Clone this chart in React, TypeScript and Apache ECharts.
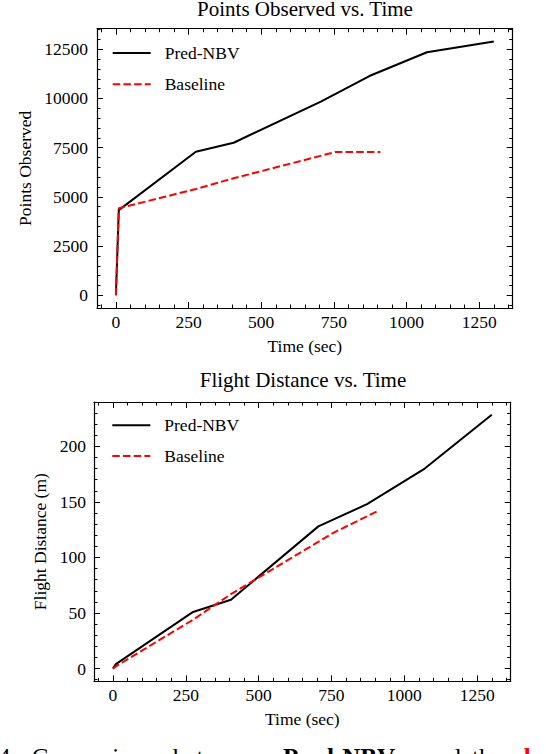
import React, { useEffect, useRef } from 'react';
import * as echarts from 'echarts';

const FONT = "'Liberation Serif', 'Times New Roman', Times, serif";

// Data
const predTime = [0, 10, 275, 405, 705, 872, 1070, 1300];
const predPoints = [0, 4330, 7290, 7750, 9840, 11140, 12350, 12900];
const baseTime = [0, 10, 275, 405, 755, 910];
const basePoints = [0, 4420, 5400, 5945, 7280, 7280];
const predDist = [0, 4, 51, 62, 128, 148, 180, 228.5];
const baseDist = [0, 2, 44, 67, 122, 142];

// Tick values
const xMajor = [0, 250, 500, 750, 1000, 1250];
const yMajor1 = [0, 2500, 5000, 7500, 10000, 12500];
const yMajor2 = [0, 50, 100, 150, 200];

const seq = (a: number, b: number, s: number) => {
  const out: number[] = [];
  for (let v = a; v <= b + 1e-9; v += s) out.push(v);
  return out;
};
const xMinor = seq(-50, 1350, 50);
const yMinor1 = seq(-500, 13500, 500);
const yMinor2 = seq(-10, 240, 10);

const padExt = (vals: number[]) => {
  const mn = Math.min(...vals);
  const mx = Math.max(...vals);
  const r = mx - mn;
  return [mn - 0.05 * r, mx + 0.05 * r];
};

const zip = (a: number[], b: number[]) => a.map((v, i) => [v, b[i]]);

const tickStyle = { color: '#000', width: 1 };
const lineStyleFrame = { color: '#000', width: 1.2 };
const labelText = { fontFamily: FONT, fontSize: 17.5, color: '#000' };

function makeX(g: number, ext: number[], name: string, nameGap: number, margin: number) {
  const base: any = {
    type: 'value', gridIndex: g, min: ext[0], max: ext[1],
    splitLine: { show: false }, axisPointer: { show: false },
  };
  return [
    {
      ...base, position: 'bottom',
      axisLine: { show: true, onZero: false, lineStyle: lineStyleFrame },
      axisTick: { show: true, inside: true, length: 6, customValues: xMajor, lineStyle: tickStyle },
      axisLabel: { show: true, customValues: xMajor, margin, ...labelText, formatter: (v: number) => String(v) },
      name, nameLocation: 'middle', nameGap, nameMoveOverlap: false, nameTextStyle: { ...labelText },
    },
    {
      ...base, position: 'bottom',
      axisLine: { show: false, onZero: false },
      axisTick: { show: true, inside: true, length: 3.5, customValues: xMinor, lineStyle: tickStyle },
      axisLabel: { show: false },
    },
    {
      ...base, position: 'top',
      axisLine: { show: true, onZero: false, lineStyle: lineStyleFrame },
      axisTick: { show: true, inside: true, length: 6, customValues: xMajor, lineStyle: tickStyle },
      axisLabel: { show: false },
    },
    {
      ...base, position: 'top',
      axisLine: { show: false, onZero: false },
      axisTick: { show: true, inside: true, length: 3.5, customValues: xMinor, lineStyle: tickStyle },
      axisLabel: { show: false },
    },
  ];
}

function makeY(g: number, ext: number[], major: number[], minor: number[], name: string, nameGap: number, margin: number) {
  const base: any = {
    type: 'value', gridIndex: g, min: ext[0], max: ext[1],
    splitLine: { show: false }, axisPointer: { show: false },
  };
  return [
    {
      ...base, position: 'left',
      axisLine: { show: true, onZero: false, lineStyle: lineStyleFrame },
      axisTick: { show: true, inside: true, length: 6, customValues: major, lineStyle: tickStyle },
      axisLabel: { show: true, customValues: major, margin, ...labelText, formatter: (v: number) => String(v) },
      name, nameLocation: 'middle', nameGap, nameMoveOverlap: false, nameTextStyle: { ...labelText },
    },
    {
      ...base, position: 'left',
      axisLine: { show: false, onZero: false },
      axisTick: { show: true, inside: true, length: 3.5, customValues: minor, lineStyle: tickStyle },
      axisLabel: { show: false },
    },
    {
      ...base, position: 'right',
      axisLine: { show: true, onZero: false, lineStyle: lineStyleFrame },
      axisTick: { show: true, inside: true, length: 6, customValues: major, lineStyle: tickStyle },
      axisLabel: { show: false },
    },
    {
      ...base, position: 'right',
      axisLine: { show: false, onZero: false },
      axisTick: { show: true, inside: true, length: 3.5, customValues: minor, lineStyle: tickStyle },
      axisLabel: { show: false },
    },
  ];
}

const captionWords = [
  { text: '4:', x: -2, bold: false, red: false },
  { text: 'Comparison', x: 31.7, bold: false, red: false },
  { text: 'between', x: 173, bold: false, red: false },
  { text: 'Pred-NBV', x: 283, bold: true, red: false },
  { text: 'and', x: 425, bold: false, red: false },
  { text: 'the', x: 472, bold: false, red: false },
  { text: 'ba', x: 524, bold: true, red: true },
];

export default function App() {
  const ref = useRef<HTMLDivElement>(null);
  useEffect(() => {
    if (!ref.current) return;
    const chart = echarts.init(ref.current, undefined, { renderer: 'svg' });
    const xExt = padExt([...predTime, ...baseTime]);
    const yExt1 = padExt([...predPoints, ...basePoints]);
    const yExt2 = padExt([...predDist, ...baseDist]);

    const legendCommon: any = {
      orient: 'vertical', itemWidth: 38, itemHeight: 14, padding: 0,
      data: ['Pred-NBV', 'Baseline'],
      textStyle: { ...labelText, padding: [0, 0, 0, 9] },
      itemStyle: { opacity: 0 },
      selectedMode: false,
    };

    const option: any = {
      animation: false,
      backgroundColor: '#fff',
      title: [
        {
          text: 'Points Observed vs. Time', left: 305, top: -2, textAlign: 'center', padding: 0,
          textStyle: { fontFamily: FONT, fontSize: 21, fontWeight: 'normal', color: '#000' },
        },
        {
          text: 'Flight Distance vs. Time', left: 303, top: 369.6, textAlign: 'center', padding: 0,
          textStyle: { fontFamily: FONT, fontSize: 21, fontWeight: 'normal', color: '#000' },
        },
      ],
      legend: [
        { ...legendCommon, left: 111.7, top: 44, itemGap: 13.3 },
        { ...legendCommon, left: 111.3, top: 416.3, itemGap: 12.7 },
      ],
      grid: [
        { left: 97, top: 28.7, width: 415.7, height: 279.3, containLabel: false, outerBoundsMode: 'none' },
        { left: 94, top: 402, width: 416.7, height: 279.3, containLabel: false, outerBoundsMode: 'none' },
      ],
      xAxis: [
        ...makeX(0, xExt, 'Time (sec)', 29, 5),
        ...makeX(1, xExt, 'Time (sec)', 29, 5),
      ],
      yAxis: [
        ...makeY(0, yExt1, yMajor1, yMinor1, 'Points Observed', 62.6, 9),
        ...makeY(1, yExt2, yMajor2, yMinor2, 'Flight Distance (m)', 44.9, 8),
      ],
      series: [
        {
          type: 'line', name: 'Pred-NBV', xAxisIndex: 0, yAxisIndex: 0,
          data: zip(predTime, predPoints), symbol: 'none',
          lineStyle: { color: '#000', width: 2 }, itemStyle: { color: '#000' },
        },
        {
          type: 'line', name: 'Baseline', xAxisIndex: 0, yAxisIndex: 0,
          data: zip(baseTime, basePoints), symbol: 'none',
          lineStyle: { color: '#ff0000', width: 2, type: [7.5, 3.2] }, itemStyle: { color: '#ff0000' },
        },
        {
          type: 'line', name: 'Pred-NBV', xAxisIndex: 4, yAxisIndex: 4,
          data: zip(predTime, predDist), symbol: 'none',
          lineStyle: { color: '#000', width: 2 }, itemStyle: { color: '#000' },
        },
        {
          type: 'line', name: 'Baseline', xAxisIndex: 4, yAxisIndex: 4,
          data: zip(baseTime, baseDist), symbol: 'none',
          lineStyle: { color: '#ff0000', width: 2, type: [7.5, 3.2] }, itemStyle: { color: '#ff0000' },
        },
      ],
      graphic: captionWords.map((w) => ({
        type: 'text', x: w.x, y: 744.6,
        style: {
          text: w.text, fontFamily: FONT, fontSize: 25,
          fontWeight: w.bold ? 'bold' : 'normal',
          fill: w.red ? '#ff0000' : '#000', verticalAlign: 'top', align: 'left',
        },
      })),
    };
    chart.setOption(option);
    return () => chart.dispose();
  }, []);
  return <div ref={ref} style={{ position: 'absolute', left: 0, top: 0, width: 546, height: 754 }} />;
}
